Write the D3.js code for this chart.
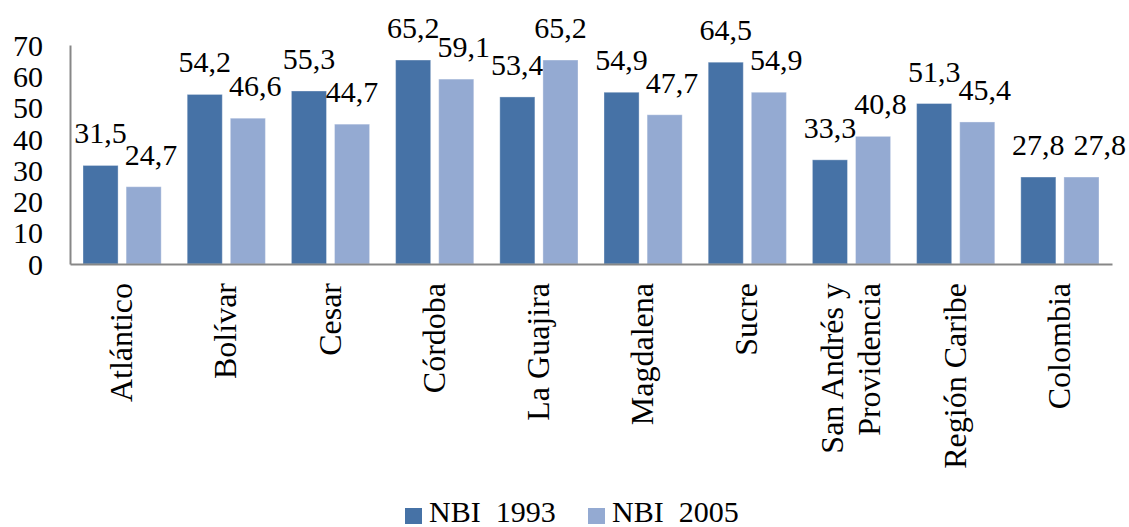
<!DOCTYPE html>
<html>
<head>
<meta charset="utf-8">
<script src="https://cdn.jsdelivr.net/npm/d3@7"></script>
<style>
  html, body { margin: 0; padding: 0; background: #fff; }
  svg { display: block; }
  text { font-family: "Liberation Serif", "DejaVu Serif", serif; fill: #000; }
</style>
</head>
<body>
<svg id="chart" width="1129" height="527"></svg>
<script>
const categories = ["Atlántico", "Bolívar", "Cesar", "Córdoba", "La Guajira", "Magdalena", "Sucre", "San Andrés y|Providencia", "Región Caribe", "Colombia"];
const seriesNames = ["NBI  1993", "NBI  2005"];
const nbi1993 = [31.5, 54.2, 55.3, 65.2, 53.4, 54.9, 64.5, 33.3, 51.3, 27.8];
const nbi2005 = [24.7, 46.6, 44.7, 59.1, 65.2, 47.7, 54.9, 40.8, 45.4, 27.8];
const yTicks = [0, 10, 20, 30, 40, 50, 60, 70];
const colors = ["#4672a6", "#94aad2"];

const svg = d3.select("#chart");
const plotLeft = 70, plotRight = 1112, plotTop = 45, plotBottom = 264;
const numFont = "Liberation Serif", numSize = 30;

const y = d3.scaleLinear().domain([0, 70]).range([plotBottom, plotTop]);
const x0 = d3.scaleBand().domain(categories).range([plotLeft, plotRight]).padding(0);
const x1 = d3.scaleBand().domain([0, 1]).range([13, x0.bandwidth() - 13]).paddingInner(0.186).paddingOuter(0);

const series = [nbi1993, nbi2005];
const fmt = v => d3.format(".1f")(v).replace(".", ",");

// bars + value labels
categories.forEach((c, i) => {
  const g = svg.append("g").attr("transform", `translate(${x0(c)},0)`);
  const labels = [];
  series.forEach((s, k) => {
    g.append("rect")
      .attr("x", x1(k))
      .attr("y", y(s[i]))
      .attr("width", x1.bandwidth())
      .attr("height", y(0) - y(s[i]))
      .attr("fill", colors[k])
      .attr("stroke", "#fff")
      .attr("stroke-opacity", 0.35)
      .attr("stroke-width", 1);
    labels.push(g.append("text")
      .attr("x", x1(k) + x1.bandwidth() / 2)
      .attr("y", y(s[i]) - 22)
      .attr("text-anchor", "middle")
      .attr("font-family", numFont)
      .attr("font-size", numSize)
      .text(fmt(s[i])));
  });
  // avoid overlapping labels: push the second one right
  const b0 = labels[0].node().getBBox(), b1 = labels[1].node().getBBox();
  const vOverlap = b0.y < b1.y + b1.height && b1.y < b0.y + b0.height;
  if (vOverlap) {
    const gap = Math.abs(series[0][i] - series[1][i]) < 1 ? 9 : -2;
    const need = (b0.x + b0.width + gap) - b1.x;
    if (need > 0) labels[1].attr("x", +labels[1].attr("x") + need);
  }
});

// y axis
const yAxis = d3.axisLeft(y).tickValues(yTicks).tickSize(0).tickPadding(27).tickFormat(d3.format("d"));
const gy = svg.append("g").attr("transform", `translate(${plotLeft},0)`).call(yAxis);
gy.select(".domain").attr("stroke", "#878787").attr("stroke-width", 2);
gy.selectAll("text").attr("font-size", numSize).attr("font-family", numFont).attr("fill", "#000").attr("dy", "0.34em");

// x axis line
const xAxis = d3.axisBottom(x0).tickSize(0).tickFormat("");
const gx = svg.append("g").attr("transform", `translate(0,${plotBottom})`).call(xAxis);
gx.select(".domain").attr("stroke", "#878787").attr("stroke-width", 2);

// category labels, rotated
categories.forEach(c => {
  const lines = c.split("|");
  const cx = x0(c) + x0.bandwidth() / 2;
  const t = svg.append("text")
    .attr("transform", `translate(${cx},283) rotate(-90)`)
    .attr("text-anchor", "end")
    .attr("font-family", numFont)
    .attr("font-size", 32);
  const n = lines.length;
  lines.forEach((ln, j) => {
    t.append("tspan")
      .attr("x", 0)
      .attr("y", (j - (n - 1) / 2) * 37 + 10)
      .text(ln);
  });
});

// legend
const legendX = [405, 588];
seriesNames.forEach((name, k) => {
  svg.append("rect")
    .attr("x", legendX[k]).attr("y", 508)
    .attr("width", 17).attr("height", 16)
    .attr("fill", colors[k]);
  svg.append("text")
    .attr("x", legendX[k] + 24).attr("y", 522)
    .attr("font-family", numFont)
    .attr("font-size", numSize)
    .attr("xml:space", "preserve")
    .style("white-space", "pre")
    .text(name);
});
</script>
</body>
</html>
